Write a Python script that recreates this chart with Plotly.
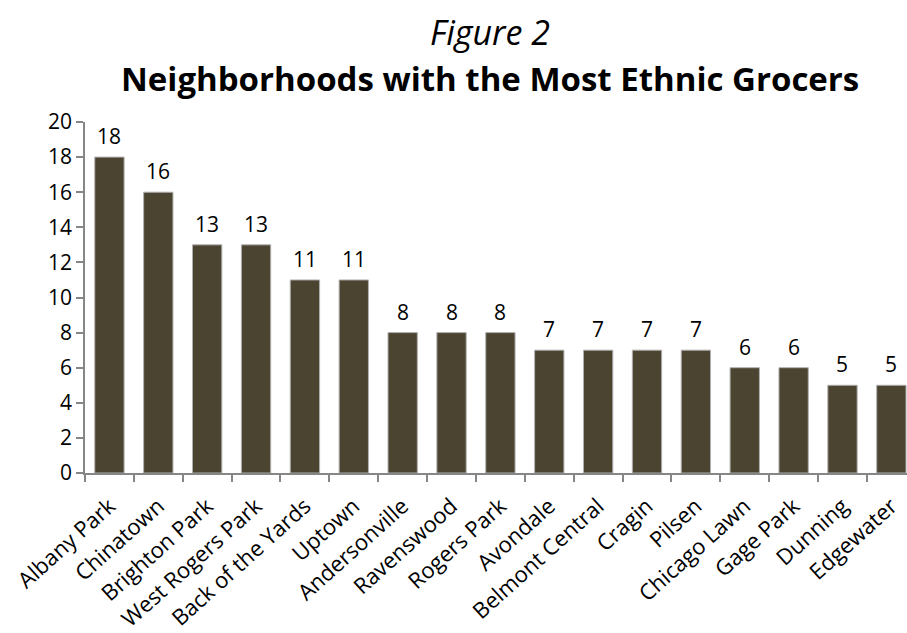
import plotly.graph_objects as go

neighborhoods = ["Albany Park", "Chinatown", "Brighton Park", "West Rogers Park",
                 "Back of the Yards", "Uptown", "Andersonville", "Ravenswood",
                 "Rogers Park", "Avondale", "Belmont Central", "Cragin", "Pilsen",
                 "Chicago Lawn", "Gage Park", "Dunning", "Edgewater"]
grocers = [18, 16, 13, 13, 11, 11, 8, 8, 8, 7, 7, 7, 7, 6, 6, 5, 5]
y_ticks = list(range(0, 21, 2))

FONT = "Open Sans, Lato, sans-serif"
BAR = "#4b4430"
AXIS = "#868686"

fig = go.Figure()
fig.add_trace(go.Bar(
    x=neighborhoods, y=grocers,
    marker=dict(color=BAR, line=dict(color="#b0b0b0", width=1)),
    width=0.6, hoverinfo="x+y",
))

for name, v in zip(neighborhoods, grocers):
    fig.add_annotation(x=name, y=v, text=str(v), showarrow=False,
                       yanchor="bottom", yshift=5,
                       font=dict(family=FONT, size=21, color="black"))

fig.add_annotation(xref="paper", yref="paper", x=0.4927, y=1.256,
                   text="<i>Figure 2</i>", showarrow=False,
                   xanchor="center", yanchor="middle",
                   font=dict(family=FONT, size=34, color="black"))
fig.add_annotation(xref="paper", yref="paper", x=0.4927, y=1.125,
                   text="<b>Neighborhoods with the Most Ethnic Grocers</b>", showarrow=False,
                   xanchor="center", yanchor="middle",
                   font=dict(family=FONT, size=33, color="black"))

fig.update_layout(
    width=907, height=633,
    margin=dict(l=85, r=0, t=122, b=160),
    paper_bgcolor="white", plot_bgcolor="white",
    showlegend=False,
    font=dict(family=FONT, size=20, color="black"),
    xaxis=dict(
        range=[-0.5, 16.32], tickangle=-42, automargin=False,
        showline=True, linecolor=AXIS, linewidth=1.5,
        ticks="outside", ticklen=7, tickcolor=AXIS, tickwidth=1.5,
        tickson="boundaries", showgrid=False, ticklabelstandoff=10,
        tickfont=dict(family=FONT, size=22, color="black"),
    ),
    yaxis=dict(
        range=[0, 20], tickvals=y_ticks, automargin=False,
        showline=True, linecolor=AXIS, linewidth=1.5,
        ticks="outside", ticklen=7, tickcolor=AXIS, tickwidth=1.5,
        showgrid=False, zeroline=False,
        tickfont=dict(family=FONT, size=21, color="black"),
    ),
)

fig.write_html("out.html")
